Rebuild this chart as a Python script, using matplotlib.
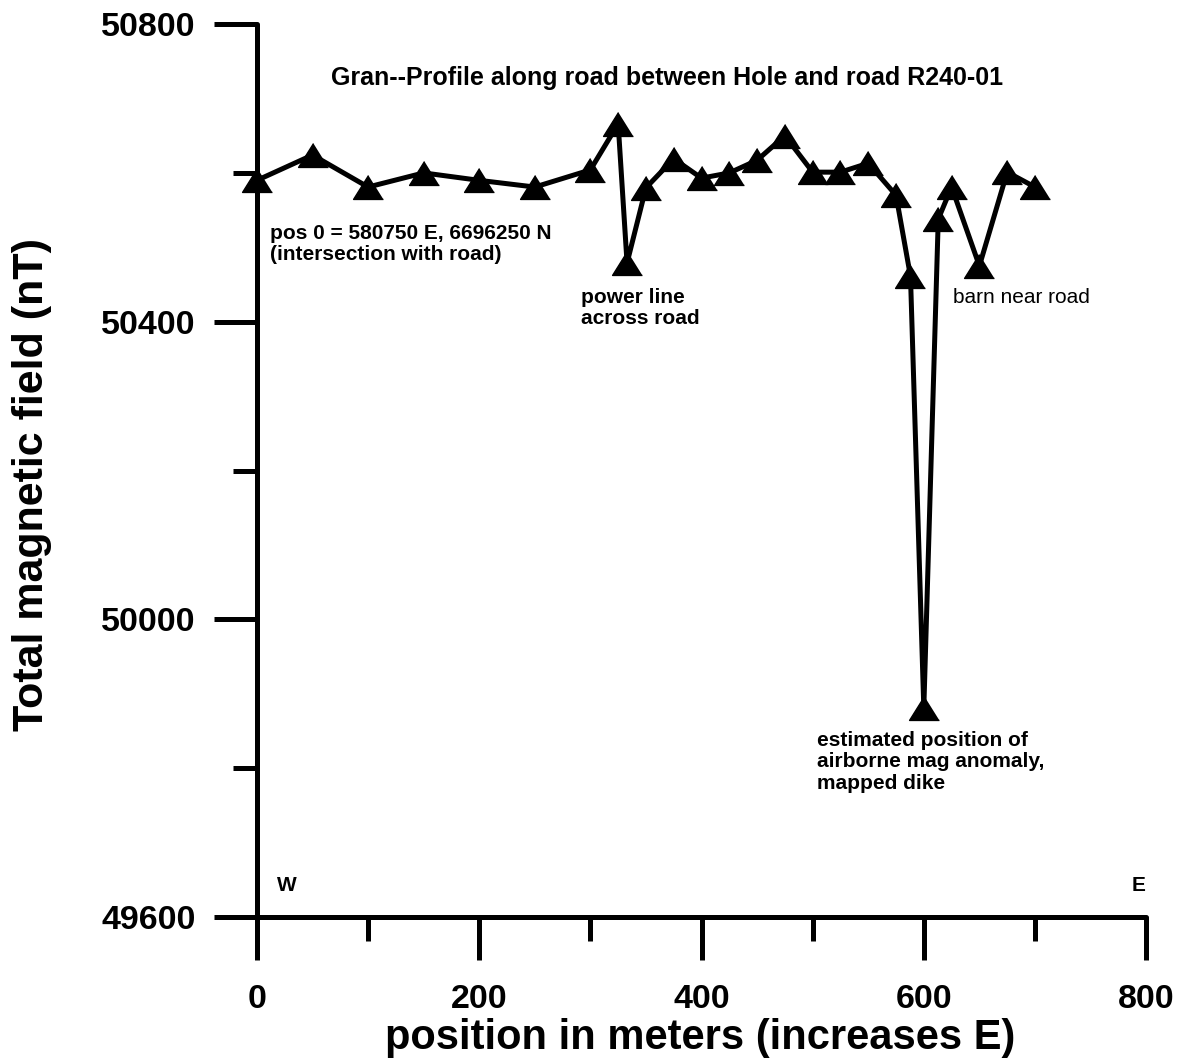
#!/usr/bin/env python3
import matplotlib
matplotlib.use("Agg")
import matplotlib.pyplot as plt
from matplotlib.ticker import MultipleLocator

plt.rcParams['font.family'] = ['Liberation Sans', 'DejaVu Sans']

# magnetometer profile
position = [0, 50, 100, 150, 200, 250, 300, 325, 333, 350, 375, 400, 425,
            450, 475, 500, 525, 550, 575, 588, 600, 613, 625, 650, 675, 700]
field = [50590, 50624, 50581, 50600, 50590, 50581, 50604, 50666, 50479,
         50580, 50619, 50593, 50600, 50617, 50650, 50601, 50601, 50613,
         50570, 50461, 49881, 50538, 50581, 50475, 50601, 50581]

title = "Gran--Profile along road between Hole and road R240-01"
notes = [
    (12, 50532, "pos 0 = 580750 E, 6696250 N\n(intersection with road)", "bold"),
    (292, 50446, "power line\nacross road", "bold"),
    (626, 50446, "barn near road", "normal"),
    (504, 49850, "estimated position of\nairborne mag anomaly,\nmapped dike", "bold"),
]

# slightly flattened triangle, like the original symbol
tri = [(0, 0.8), (-1, -0.8), (1, -0.8)]

fig = plt.figure(figsize=(11.84, 10.64), dpi=100)
ax = fig.add_axes([0.217, 0.138, 0.751, 0.8394])

ax.plot(position, field, color='black', lw=3.6, marker=tri, ms=21.5,
        clip_on=False, zorder=3)

ax.set_xlim(0, 800)
ax.set_ylim(49600, 50800)

for side in ('top', 'right'):
    ax.spines[side].set_visible(False)
for side in ('left', 'bottom'):
    ax.spines[side].set_linewidth(3.6)
    ax.spines[side].set_capstyle('round')

ax.xaxis.set_major_locator(MultipleLocator(200))
ax.xaxis.set_minor_locator(MultipleLocator(100))
ax.yaxis.set_major_locator(MultipleLocator(400))
ax.yaxis.set_minor_locator(MultipleLocator(200))

ax.tick_params(which='major', length=31, width=3.6, direction='out')
ax.tick_params(which='minor', length=17, width=3.6, direction='out')
ax.tick_params(axis='y', which='major', pad=13, labelsize=24.5)
ax.tick_params(axis='x', which='major', pad=17, labelsize=24.5)
for lab in ax.get_xticklabels() + ax.get_yticklabels():
    lab.set_fontweight('bold')

ax.set_xlabel("position in meters (increases E)", fontsize=30,
              fontweight='bold')
ax.xaxis.set_label_coords(0.499, -0.113)
ax.set_ylabel("Total magnetic field (nT)", fontsize=31, fontweight='bold')
ax.yaxis.set_label_coords(-0.2306, 0.485)

ax.text(369, 50727, title, fontsize=18, fontweight='bold',
        ha='center', va='center')

for x, y, txt, w in notes:
    ax.text(x, y, txt, fontsize=15, fontweight=w, ha='left', va='top',
            linespacing=1.15)

ax.text(18, 49643, "W", fontsize=15, fontweight='bold', ha='left', va='center')
ax.text(787, 49643, "E", fontsize=15, fontweight='bold', ha='left', va='center')

fig.savefig("out.png", dpi=100)
